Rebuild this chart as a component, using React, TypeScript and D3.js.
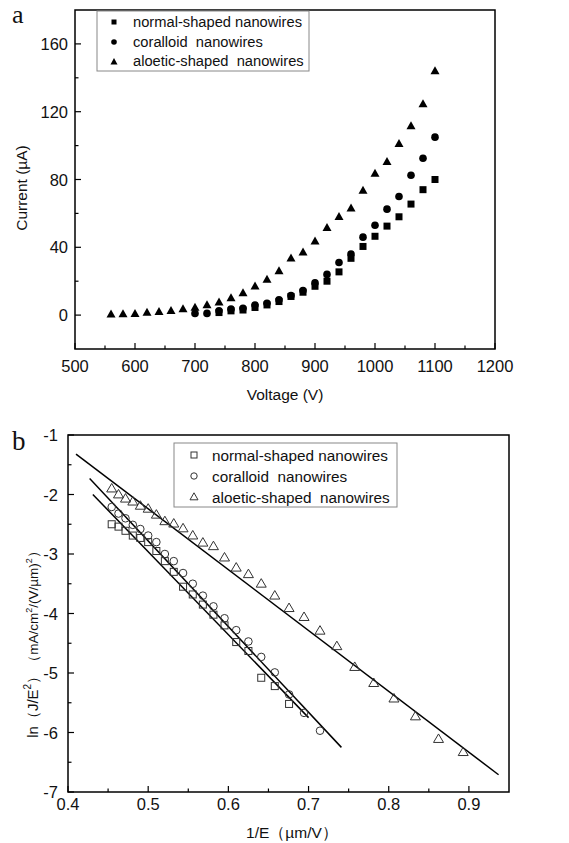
import React from "react";
import * as d3 from "d3";

// ---------- Panel a data (Voltage V, Current µA) ----------
const triV = [560, 580, 600, 620, 640, 660, 680, 700, 720, 740, 760, 780, 800, 820, 840, 860, 880, 900, 920, 940, 960, 980, 1000, 1020, 1040, 1060, 1080, 1100];
const triI = [0.5, 0.6, 0.8, 1.5, 2, 2.5, 3.5, 4.5, 6, 7.5, 10, 13, 17, 21, 26, 33.5, 37, 43.5, 51.5, 58, 63, 73.5, 83.5, 90.5, 101, 111.5, 124.5, 144];
const cirV = [700, 720, 740, 760, 780, 800, 820, 840, 860, 880, 900, 920, 940, 960, 980, 1000, 1020, 1040, 1060, 1080, 1100];
const cirI = [1, 1, 2.5, 3.5, 4, 6, 7, 9, 11.5, 14.5, 19, 24, 31, 36, 46, 53, 62.5, 70, 82.5, 92.5, 105];
const sqV = [740, 760, 780, 800, 820, 840, 860, 880, 900, 920, 940, 960, 980, 1000, 1020, 1040, 1060, 1080, 1100];
const sqI = [1.5, 2.5, 3, 4.5, 6, 8, 11, 13.5, 17, 20, 25.5, 33.5, 40.5, 46.5, 52.5, 58, 65.5, 74, 80];

const aXTicks = [500, 600, 700, 800, 900, 1000, 1100, 1200];
const aXMinor = [550, 650, 750, 850, 950, 1050, 1150];
const aYTicks = [0, 40, 80, 120, 160];
const aYMinor = [20, 60, 100, 140];

// ---------- Panel b data (1/E µm/V, ln(J/E^2)) ----------
const triX = [0.4545, 0.463, 0.4717, 0.4808, 0.4902, 0.5, 0.5102, 0.5208, 0.5319, 0.5435, 0.5556, 0.5682, 0.5814, 0.5952, 0.6098, 0.625, 0.641, 0.6579, 0.6757, 0.6944, 0.7143, 0.7353, 0.7576, 0.7813, 0.8065, 0.8333, 0.8621, 0.8929];
const triY = [-1.9, -2.0, -2.07, -2.12, -2.19, -2.24, -2.34, -2.45, -2.49, -2.57, -2.69, -2.81, -2.87, -3.06, -3.23, -3.34, -3.5, -3.7, -3.91, -4.06, -4.29, -4.55, -4.9, -5.17, -5.43, -5.73, -6.11, -6.33];
const cirX = [0.4545, 0.463, 0.4717, 0.4808, 0.4902, 0.5, 0.5102, 0.5208, 0.5319, 0.5435, 0.5556, 0.5682, 0.5814, 0.5952, 0.6098, 0.625, 0.641, 0.6579, 0.6757, 0.6944, 0.7143];
const cirY = [-2.21, -2.32, -2.4, -2.51, -2.58, -2.69, -2.8, -3.0, -3.12, -3.32, -3.5, -3.7, -3.88, -4.08, -4.28, -4.47, -4.73, -4.99, -5.36, -5.67, -5.97];
const sqX = [0.4545, 0.463, 0.4717, 0.4808, 0.4902, 0.5, 0.5102, 0.5208, 0.5319, 0.5435, 0.5556, 0.5682, 0.5814, 0.5952, 0.6098, 0.625, 0.641, 0.6579, 0.6757];
const sqY = [-2.5, -2.54, -2.61, -2.69, -2.73, -2.8, -2.95, -3.12, -3.3, -3.55, -3.68, -3.85, -4.02, -4.2, -4.48, -4.63, -5.08, -5.22, -5.52];

// fitted lines: [x0, y0, x1, y1]
const fitTri = [0.41, -1.32, 0.937, -6.71];
const fitCir = [0.427, -1.73, 0.741, -6.25];
const fitSq = [0.431, -2.0, 0.70, -5.75];

const bXTicks = [0.4, 0.5, 0.6, 0.7, 0.8, 0.9];
const bXMinor = [0.45, 0.55, 0.65, 0.75, 0.85];
const bYTicks = [-1, -2, -3, -4, -5, -6, -7];
const bYMinor = [-1.5, -2.5, -3.5, -4.5, -5.5, -6.5];

const legendNames = ["normal-shaped nanowires", "coralloid  nanowires", "aloetic-shaped  nanowires"];

const SANS = "'Liberation Sans', Arial, Helvetica, sans-serif";
const SERIF = "'Liberation Serif', 'Times New Roman', serif";

const triPath = (cx: number, cy: number, w: number, h: number) =>
  `M${cx},${cy - h * 0.6}L${cx + w / 2},${cy + h * 0.4}L${cx - w / 2},${cy + h * 0.4}Z`;

export default function App() {
  // Panel a scales
  const ax = d3.scaleLinear().domain([500, 1200]).range([75, 495]);
  const ay = d3.scaleLinear().domain([-20, 180]).range([349, 10]);
  // Panel b scales
  const bx = d3.scaleLinear().domain([0.4, 0.95]).range([68, 509]);
  const by = d3.scaleLinear().domain([-7, -1]).range([792, 435]);

  const line = d3.line<[number, number]>().x((d) => bx(d[0])).y((d) => by(d[1]));
  const fitLine = (f: number[]) => line([[f[0], f[1]], [f[2], f[3]]]) || "";

  const markStroke = "#333";
  const tickFont = 16.5;

  return (
    <svg width={569} height={843} style={{ position: "absolute", left: 0, top: 0, background: "#fff" }} fontFamily={SANS} fill="#111">
      <rect x={0} y={0} width={569} height={843} fill="#fff" />
      {/* ================= Panel a ================= */}
      <text x={12} y={23} fontFamily={SERIF} fontSize={26}>a</text>
      {aXTicks.map((t) => (
        <g key={"axt" + t}>
          <line x1={ax(t)} x2={ax(t)} y1={ay(-20)} y2={ay(-20) - 6} stroke="#000" strokeWidth={1.2} />
          <text x={ax(t)} y={372} fontSize={tickFont} textAnchor="middle">{t}</text>
        </g>
      ))}
      {aXMinor.map((t) => (
        <line key={"axm" + t} x1={ax(t)} x2={ax(t)} y1={ay(-20)} y2={ay(-20) - 3.5} stroke="#000" strokeWidth={1.2} />
      ))}
      {aYTicks.map((t) => (
        <g key={"ayt" + t}>
          <line x1={ax(500)} x2={ax(500) + 6} y1={ay(t)} y2={ay(t)} stroke="#000" strokeWidth={1.2} />
          <text x={68} y={ay(t) + 6} fontSize={tickFont} textAnchor="end">{t}</text>
        </g>
      ))}
      {aYMinor.map((t) => (
        <line key={"aym" + t} x1={ax(500)} x2={ax(500) + 3.5} y1={ay(t)} y2={ay(t)} stroke="#000" strokeWidth={1.2} />
      ))}
      <rect x={ax(500)} y={ay(180)} width={ax(1200) - ax(500)} height={ay(-20) - ay(180)} fill="none" stroke="#000" strokeWidth={1.5} />
      <text x={285} y={400} fontSize={15.5} textAnchor="middle">Voltage (V)</text>
      <text transform={`translate(27,188) rotate(-90)`} fontSize={15.5} textAnchor="middle">Current (µA)</text>
      {sqV.map((v, i) => (
        <rect key={"as" + i} x={ax(v) - 3.5} y={ay(sqI[i]) - 3.5} width={7} height={7} fill="#000" />
      ))}
      {cirV.map((v, i) => (
        <circle key={"ac" + i} cx={ax(v)} cy={ay(cirI[i])} r={3.8} fill="#000" />
      ))}
      {triV.map((v, i) => (
        <path key={"at" + i} d={triPath(ax(v), ay(triI[i]), 9, 8)} fill="#000" />
      ))}
      <rect x={97} y={11} width={212} height={60} fill="#fff" stroke="#888" strokeWidth={1} />
      <rect x={111.5} y={19.5} width={5} height={5} fill="#000" />
      <circle cx={114} cy={42} r={2.8} fill="#000" />
      <path d={triPath(114, 62, 7, 6.5)} fill="#000" />
      {legendNames.map((n, i) => (
        <text key={"al" + i} x={133} y={27 + i * 19.5} fontSize={14.7} style={{ whiteSpace: "pre" }}>{n}</text>
      ))}

      {/* ================= Panel b ================= */}
      <text x={12} y={450} fontFamily={SERIF} fontSize={27}>b</text>
      {bXTicks.map((t) => (
        <g key={"bxt" + t}>
          <line x1={bx(t)} x2={bx(t)} y1={by(-7)} y2={by(-7) - 6} stroke="#000" strokeWidth={1.2} />
          <text x={bx(t)} y={810} fontSize={tickFont} textAnchor="middle">{t.toFixed(1)}</text>
        </g>
      ))}
      {bXMinor.map((t) => (
        <line key={"bxm" + t} x1={bx(t)} x2={bx(t)} y1={by(-7)} y2={by(-7) - 3.5} stroke="#000" strokeWidth={1.2} />
      ))}
      {bYTicks.map((t) => (
        <g key={"byt" + t}>
          <line x1={bx(0.4)} x2={bx(0.4) + 6} y1={by(t)} y2={by(t)} stroke="#000" strokeWidth={1.2} />
          <text x={58} y={by(t) + 6} fontSize={tickFont} textAnchor="end">{t}</text>
        </g>
      ))}
      {bYMinor.map((t) => (
        <line key={"bym" + t} x1={bx(0.4)} x2={bx(0.4) + 3.5} y1={by(t)} y2={by(t)} stroke="#000" strokeWidth={1.2} />
      ))}
      <rect x={bx(0.4)} y={by(-1)} width={bx(0.95) - bx(0.4)} height={by(-7) - by(-1)} fill="none" stroke="#000" strokeWidth={1.5} />
      <text x={292} y={838} fontSize={15.5} textAnchor="middle">1/E（µm/V）</text>
      <text transform={`translate(38,641) rotate(-90)`} textAnchor="middle" fontSize={15}>
        <tspan>ln（J/E</tspan>
        <tspan fontSize={10} dy={-7}>2</tspan>
        <tspan dy={7}>）</tspan>
        <tspan fontSize={13.5}>（mA/cm</tspan>
        <tspan fontSize={9} dy={-6}>2</tspan>
        <tspan fontSize={13.5} dy={6}>/(V/µm)</tspan>
        <tspan fontSize={9} dy={-6}>2</tspan>
        <tspan fontSize={13.5} dy={6}>）</tspan>
      </text>
      <path d={fitLine(fitTri)} stroke="#000" strokeWidth={1.5} fill="none" />
      <path d={fitLine(fitCir)} stroke="#000" strokeWidth={1.5} fill="none" />
      <path d={fitLine(fitSq)} stroke="#000" strokeWidth={1.5} fill="none" />
      {sqX.map((x, i) => (
        <rect key={"bs" + i} x={bx(x) - 3.5} y={by(sqY[i]) - 3.5} width={7} height={7} fill="none" stroke={markStroke} strokeWidth={1} />
      ))}
      {cirX.map((x, i) => (
        <circle key={"bc" + i} cx={bx(x)} cy={by(cirY[i])} r={3.8} fill="none" stroke={markStroke} strokeWidth={1} />
      ))}
      {triX.map((x, i) => (
        <path key={"bt" + i} d={triPath(bx(x), by(triY[i]), 10, 8.5)} fill="none" stroke={markStroke} strokeWidth={1} />
      ))}
      <rect x={174} y={443} width={223} height={64} fill="#fff" stroke="#888" strokeWidth={1} />
      <rect x={191} y={452} width={6} height={6} fill="none" stroke={markStroke} strokeWidth={1} />
      <circle cx={194} cy={476} r={3.2} fill="none" stroke={markStroke} strokeWidth={1} />
      <path d={triPath(194, 497, 8, 7)} fill="none" stroke={markStroke} strokeWidth={1} />
      {legendNames.map((n, i) => (
        <text key={"bl" + i} x={212} y={461 + i * 21} fontSize={15.3} style={{ whiteSpace: "pre" }}>{n}</text>
      ))}
    </svg>
  );
}
